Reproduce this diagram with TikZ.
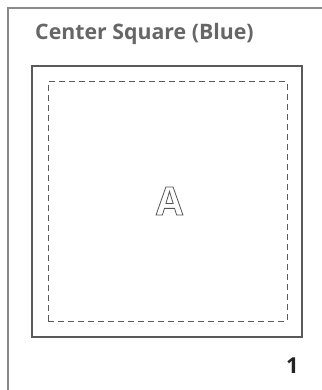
\documentclass[tikz,border=0pt]{standalone}
\usepackage{fontspec}
\setmainfont{Open Sans}
\definecolor{framegray}{HTML}{8A8A8A}
\definecolor{boxgray}{HTML}{5A5A5A}
\definecolor{titlegray}{HTML}{666666}
\definecolor{numdark}{HTML}{222222}
\tikzset{
  frameline/.style={draw=framegray, line width=1.4pt},
  solidbox/.style={draw=boxgray, line width=1.3pt},
  dashbox/.style={draw=boxgray, line width=1pt, dash pattern=on 6pt off 4pt},
  titletext/.style={text=titlegray, font=\fontsize{21.3}{24}\selectfont\bfseries, inner sep=0pt, anchor=base west},
  numtext/.style={text=numdark, font=\fontsize{22}{24}\selectfont\bfseries, inner sep=0pt, anchor=base east},
}
\newcommand{\outlinetext}[1]{\special{pdf:literal direct 1 Tr 0.8 w 0.33 G}#1\special{pdf:literal direct 0 Tr}}
\begin{document}
\begin{tikzpicture}[x=1pt,y=-1pt]
\useasboundingbox (0,0) rectangle (321,390);
\coordinate (ftl) at (8,8);
\coordinate (ftr) at (330,8);
\coordinate (fbl) at (8,400);
\draw[frameline] (fbl) -- (ftl) -- (ftr);
\node[solidbox, minimum width=270pt, minimum height=271pt, inner sep=0pt] (outer) at (167,201.5) {};
\node[dashbox, minimum width=239pt, minimum height=239pt, inner sep=0pt] (inner) at (167.5,201.5) {};
\node[titletext] (title) at (35,39.7) {Center Square (Blue)};
\node[inner sep=0pt, anchor=base, font=\fontsize{39}{40}\selectfont\bfseries] (letter) at (169.5,215) {\outlinetext{A}};
\node[numtext] (num) at (299,373) {1};
\end{tikzpicture}
\end{document}
